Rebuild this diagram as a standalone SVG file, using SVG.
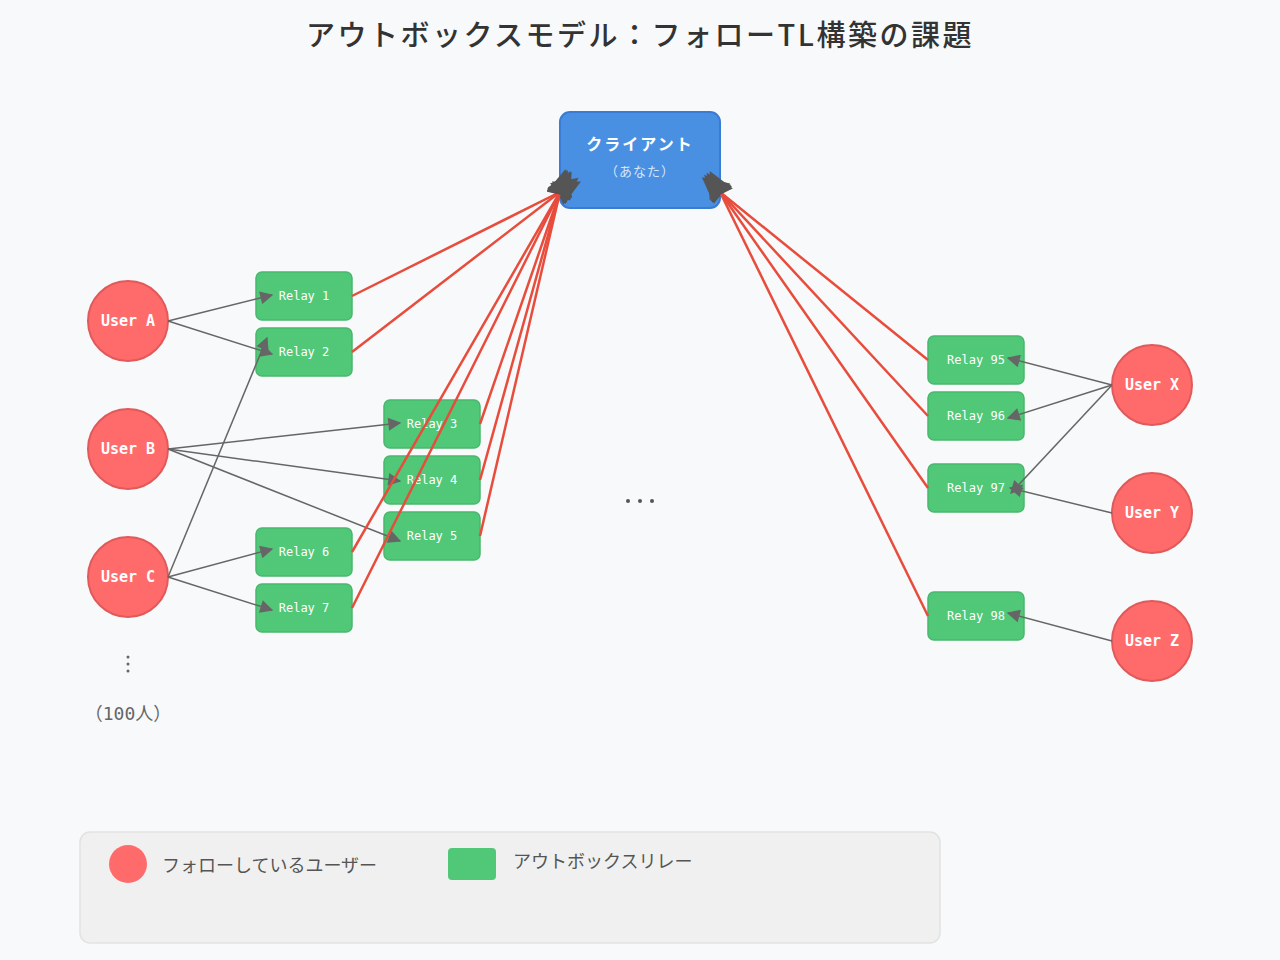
<svg xmlns="http://www.w3.org/2000/svg" width="1280" height="960" viewBox="0 0 1280 960">
<defs>
<style>
.title{font-family:"Noto Sans CJK JP","Noto Sans",sans-serif;font-size:29px;fill:#333;letter-spacing:2.5px;font-weight:500}
.user circle{fill:#ff6b6b;stroke:#e05a5a;stroke-width:2}
.user text{font-family:"DejaVu Sans Mono","Liberation Mono",monospace;font-size:15px;font-weight:bold;fill:#fff;text-anchor:middle}
.relay rect{fill:#50c878;stroke:#48b86c;stroke-width:1.5}
.relay text{font-family:"DejaVu Sans Mono","Liberation Mono",monospace;font-size:12px;fill:#fff;text-anchor:middle}
.sub{stroke:#666;stroke-width:1.5;fill:none;marker-end:url(#ag)}
.feed{stroke:#e74c3c;stroke-width:2.5;fill:none;marker-end:url(#ar)}
.note{font-family:"DejaVu Sans Mono","Noto Sans CJK JP",monospace;fill:#666;text-anchor:middle}
.leg{font-family:"Noto Sans CJK JP",sans-serif;font-size:18px;fill:#555}
</style>
<marker id="ag" viewBox="0 0 10 10" refX="9" refY="5" markerWidth="16" markerHeight="13" orient="auto" markerUnits="userSpaceOnUse"><path d="M0,0 L10,5 L0,10 z" fill="#666"/></marker>
<marker id="ar" viewBox="0 0 10 10" refX="1" refY="5" markerWidth="28" markerHeight="26" orient="auto" markerUnits="userSpaceOnUse"><path d="M0,0 L10,5 L0,10 z" fill="#555"/></marker>
</defs>
<rect width="1280" height="960" fill="#f8f9fa"/>
<text class="title" x="640" y="46" text-anchor="middle">アウトボックスモデル：フォローTL構築の課題</text>

<g id="client">
<rect x="560" y="112" width="160" height="96" rx="10" fill="#4a90e2" stroke="#3a7bd5" stroke-width="2"/>
<text x="640" y="150" text-anchor="middle" font-family="Noto Sans CJK JP,sans-serif" font-size="16" font-weight="bold" fill="#fff" letter-spacing="2">クライアント</text>
<text x="640" y="176" text-anchor="middle" font-family="Noto Sans CJK JP,sans-serif" font-size="13" fill="#d6e6fa" letter-spacing="1">（あなた）</text>
</g>

<g id="userA" class="user"><circle cx="128" cy="321" r="40"/><text x="128" y="326">User A</text></g>
<g id="userB" class="user"><circle cx="128" cy="449" r="40"/><text x="128" y="454">User B</text></g>
<g id="userC" class="user"><circle cx="128" cy="577" r="40"/><text x="128" y="582">User C</text></g>
<g id="userX" class="user"><circle cx="1152" cy="385" r="40"/><text x="1152" y="390">User X</text></g>
<g id="userY" class="user"><circle cx="1152" cy="513" r="40"/><text x="1152" y="518">User Y</text></g>
<g id="userZ" class="user"><circle cx="1152" cy="641" r="40"/><text x="1152" y="646">User Z</text></g>

<g id="relay1" class="relay"><rect x="256" y="272" width="96" height="48" rx="6"/><text x="304" y="300">Relay 1</text></g>
<g id="relay2" class="relay"><rect x="256" y="328" width="96" height="48" rx="6"/><text x="304" y="356">Relay 2</text></g>
<g id="relay3" class="relay"><rect x="384" y="400" width="96" height="48" rx="6"/><text x="432" y="428">Relay 3</text></g>
<g id="relay4" class="relay"><rect x="384" y="456" width="96" height="48" rx="6"/><text x="432" y="484">Relay 4</text></g>
<g id="relay5" class="relay"><rect x="384" y="512" width="96" height="48" rx="6"/><text x="432" y="540">Relay 5</text></g>
<g id="relay6" class="relay"><rect x="256" y="528" width="96" height="48" rx="6"/><text x="304" y="556">Relay 6</text></g>
<g id="relay7" class="relay"><rect x="256" y="584" width="96" height="48" rx="6"/><text x="304" y="612">Relay 7</text></g>
<g id="relay95" class="relay"><rect x="928" y="336" width="96" height="48" rx="6"/><text x="976" y="364">Relay 95</text></g>
<g id="relay96" class="relay"><rect x="928" y="392" width="96" height="48" rx="6"/><text x="976" y="420">Relay 96</text></g>
<g id="relay97" class="relay"><rect x="928" y="464" width="96" height="48" rx="6"/><text x="976" y="492">Relay 97</text></g>
<g id="relay98" class="relay"><rect x="928" y="592" width="96" height="48" rx="6"/><text x="976" y="620">Relay 98</text></g>

<g id="connectors">
<line class="sub" x1="168" y1="321" x2="272" y2="295"/>
<line class="sub" x1="168" y1="321" x2="272" y2="354"/>
<line class="sub" x1="168" y1="577" x2="267" y2="338"/>
<line class="sub" x1="168" y1="449" x2="400" y2="423"/>
<line class="sub" x1="168" y1="449" x2="400" y2="481"/>
<line class="sub" x1="168" y1="449" x2="400" y2="541"/>
<line class="sub" x1="168" y1="577" x2="272" y2="549"/>
<line class="sub" x1="168" y1="577" x2="272" y2="610"/>
<line class="sub" x1="1112" y1="385" x2="1008" y2="358"/>
<line class="sub" x1="1112" y1="385" x2="1008" y2="418"/>
<line class="sub" x1="1112" y1="385" x2="1011" y2="493"/>
<line class="sub" x1="1112" y1="513" x2="1010" y2="488"/>
<line class="sub" x1="1112" y1="641" x2="1008" y2="613"/>
<line class="feed" x1="352" y1="296" x2="560" y2="192"/>
<line class="feed" x1="352" y1="352" x2="560" y2="192"/>
<line class="feed" x1="480" y1="424" x2="560" y2="192"/>
<line class="feed" x1="480" y1="480" x2="560" y2="192"/>
<line class="feed" x1="480" y1="536" x2="560" y2="192"/>
<line class="feed" x1="352" y1="552" x2="560" y2="192"/>
<line class="feed" x1="352" y1="608" x2="560" y2="192"/>
<line class="feed" x1="928" y1="360" x2="720" y2="192"/>
<line class="feed" x1="928" y1="416" x2="720" y2="192"/>
<line class="feed" x1="928" y1="488" x2="720" y2="192"/>
<line class="feed" x1="928" y1="616" x2="720" y2="192"/>
</g>

<g id="ellipsis">
<circle cx="628" cy="501" r="2" fill="#555"/><circle cx="640" cy="501" r="2" fill="#555"/><circle cx="652" cy="501" r="2" fill="#555"/>
<circle cx="128" cy="657" r="1.5" fill="#666"/><circle cx="128" cy="664" r="1.5" fill="#666"/><circle cx="128" cy="671" r="1.5" fill="#666"/>
<text class="note" x="128" y="720" font-size="18">（100人）</text>
</g>

<g id="legend">
<rect x="80" y="832" width="860" height="111" rx="10" fill="#f0f0f0" stroke="#e2e2e2" stroke-width="1.5"/>
<circle cx="128" cy="864" r="19" fill="#ff6b6b"/>
<text class="leg" x="162" y="872">フォローしているユーザー</text>
<rect x="448" y="848" width="48" height="32" rx="4" fill="#50c878"/>
<text class="leg" x="513" y="868">アウトボックスリレー</text>
</g>
</svg>
